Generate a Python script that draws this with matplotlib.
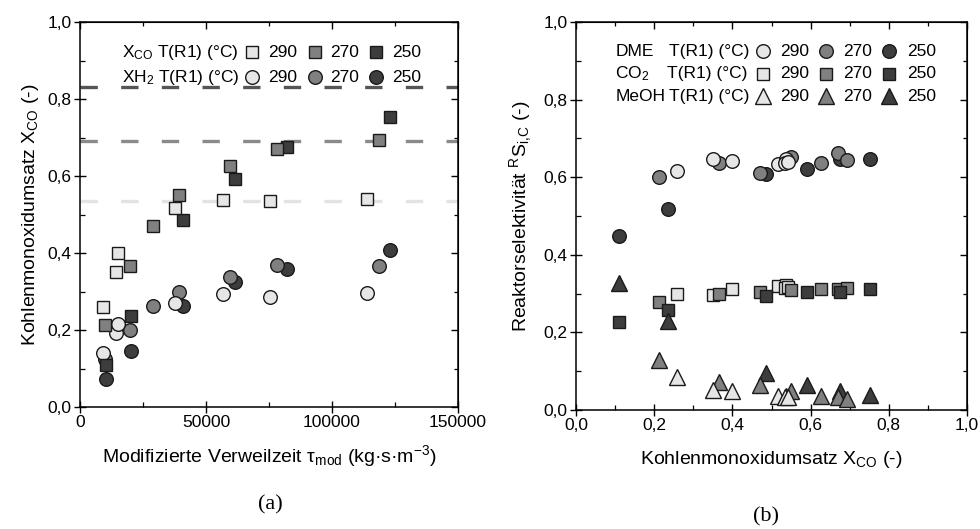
import matplotlib
matplotlib.use("Agg")
import matplotlib.pyplot as plt
from matplotlib.ticker import MultipleLocator, FuncFormatter

plt.rcParams['font.family'] = ['Liberation Sans', 'DejaVu Sans']
plt.rcParams['mathtext.fontset'] = 'custom'
plt.rcParams['mathtext.rm'] = 'Liberation Sans'
plt.rcParams['mathtext.it'] = 'Liberation Sans:italic'
plt.rcParams['mathtext.bf'] = 'Liberation Sans:bold'

# ---------------- data ----------------
temps = ["290", "270", "250"]

# modified residence time tau_mod (kg s m^-3)
tau_290 = [9140, 14180, 15090, 37890, 56800, 75350, 113760]
tau_270 = [9930, 19740, 29000, 39200, 59460, 78130, 118760]
tau_250 = [10210, 20140, 40910, 61450, 81980, 123010]

# CO conversion X_CO (-)
xco_290 = [0.259, 0.350, 0.399, 0.516, 0.538, 0.535, 0.541]
xco_270 = [0.212, 0.366, 0.471, 0.551, 0.627, 0.670, 0.694]
xco_250 = [0.110, 0.236, 0.486, 0.591, 0.676, 0.753]

# H2 conversion X_H2 (-)
xh2_290 = [0.141, 0.191, 0.215, 0.271, 0.294, 0.285, 0.296]
xh2_270 = [0.125, 0.201, 0.262, 0.299, 0.338, 0.368, 0.366]
xh2_250 = [0.074, 0.146, 0.262, 0.325, 0.359, 0.409]

# equilibrium CO conversion at 250 / 270 / 290 degC
xco_eq = [0.830, 0.690, 0.536]

# reactor selectivities (carbon based)
dme_290 = [0.617, 0.648, 0.642, 0.635, 0.646, 0.636, 0.640]
dme_270 = [0.601, 0.637, 0.610, 0.651, 0.637, 0.662, 0.644]
dme_250 = [0.448, 0.518, 0.608, 0.620, 0.646, 0.646]

co2_290 = [0.299, 0.297, 0.311, 0.320, 0.322, 0.314, 0.316]
co2_270 = [0.278, 0.299, 0.305, 0.309, 0.313, 0.311, 0.314]
co2_250 = [0.228, 0.258, 0.294, 0.305, 0.305, 0.311]

meoh_290 = [0.086, 0.052, 0.050, 0.036, 0.035, 0.034, 0.033]
meoh_270 = [0.129, 0.073, 0.064, 0.050, 0.036, 0.033, 0.028]
meoh_250 = [0.327, 0.230, 0.095, 0.064, 0.050, 0.039]

# ---------------- styling ----------------
fill = {"290": "#e6e6e6", "270": "#808080", "250": "#3d3d3d"}
eq_col = ["#555555", "#8a8a8a", "#e3e3e3"]
edge = "#1a1a1a"
MS_SQ, MS_CI, MS_TR = 8.8, 9.8, 11.5
FS_TICK, FS_LAB, FS_LEG = 12.5, 14, 12.5


def comma_fmt(v, pos):
    return f"{v:.1f}".replace(".", ",")


def style_axes(ax, xmajor, xminor, xfmt):
    ax.xaxis.set_major_locator(MultipleLocator(xmajor))
    ax.xaxis.set_minor_locator(MultipleLocator(xminor))
    ax.yaxis.set_major_locator(MultipleLocator(0.2))
    ax.yaxis.set_minor_locator(MultipleLocator(0.1))
    ax.yaxis.set_major_formatter(FuncFormatter(comma_fmt))
    if xfmt is not None:
        ax.xaxis.set_major_formatter(xfmt)
    for s in ax.spines.values():
        s.set_linewidth(1.1)
    ax.tick_params(which='major', direction='inout', length=8, width=1.0,
                   labelsize=FS_TICK, pad=2, top=False, right=False)
    ax.tick_params(which='minor', direction='in', length=3.5, width=0.9,
                   top=False, right=False)
    # mirrored inward ticks on top and right
    sx = ax.secondary_xaxis('top')
    sx.xaxis.set_major_locator(MultipleLocator(xmajor))
    sx.xaxis.set_minor_locator(MultipleLocator(xminor))
    sx.tick_params(which='major', direction='in', length=5, width=1.0, labeltop=False)
    sx.tick_params(which='minor', direction='in', length=3, width=0.9)
    sy = ax.secondary_yaxis('right')
    sy.yaxis.set_major_locator(MultipleLocator(0.2))
    sy.yaxis.set_minor_locator(MultipleLocator(0.1))
    sy.tick_params(which='major', direction='in', length=5, width=1.0, labelright=False)
    sy.tick_params(which='minor', direction='in', length=3, width=0.9)


def legend_row(ax, y, label_items, marker, ms, keys, xm, xt):
    for txt, x in label_items:
        ax.text(x, y, txt, transform=ax.transAxes, fontsize=FS_LEG,
                va='center', ha='left')
    for k, m_x, t_x in zip(keys, xm, xt):
        ax.plot([m_x], [y], marker=marker, ms=ms, mfc=fill[k], mec=edge,
                mew=1.0, ls='none', transform=ax.transAxes, clip_on=False)
        ax.text(t_x, y, k, transform=ax.transAxes, fontsize=FS_LEG,
                va='center', ha='left')


fig = plt.figure(figsize=(9.8, 5.29), dpi=100)
axa = fig.add_axes([0.0816, 0.2306, 0.3857, 0.7278])
axb = fig.add_axes([0.5878, 0.2250, 0.3990, 0.7335])

# ---------------- panel (a) ----------------
for val, c in zip(xco_eq, eq_col):
    axa.axhline(val, color=c, lw=2.4, dashes=(5.2, 7.0), zorder=1)

tau = {"290": tau_290, "270": tau_270, "250": tau_250}
xco = {"290": xco_290, "270": xco_270, "250": xco_250}
xh2 = {"290": xh2_290, "270": xh2_270, "250": xh2_250}

for k in ["250", "270", "290"]:
    axa.plot(tau[k], xh2[k], 'o', ms=MS_CI, mfc=fill[k], mec=edge, mew=1.0, zorder=3)
for k in ["250", "270", "290"]:
    axa.plot(tau[k], xco[k], 's', ms=MS_SQ, mfc=fill[k], mec=edge, mew=1.0, zorder=4)

axa.set_xlim(0, 150000)
axa.set_ylim(0, 1.0)
style_axes(axa, 50000, 25000, FuncFormatter(lambda v, p: f"{v:.0f}"))
axa.set_xlabel(r"Modifizierte Verweilzeit τ$_{\mathrm{mod}}$ (kg·s·m$^{\mathrm{-3}}$)",
               fontsize=FS_LAB, labelpad=9)
axa.set_ylabel(r"Kohlenmonoxidumsatz X$_{\mathrm{CO}}$ (-)", fontsize=FS_LAB, labelpad=5)

xm_a = [0.456, 0.622, 0.782]
xt_a = [0.498, 0.661, 0.825]
legend_row(axa, 0.922, [(r"X$_{\mathrm{CO}}$ T(R1) (°C)", 0.110)], 's', MS_SQ, temps, xm_a, xt_a)
legend_row(axa, 0.857, [(r"XH$_{\mathrm{2}}$ T(R1) (°C)", 0.110)], 'o', MS_CI, temps, xm_a, xt_a)

fig.text(0.276, 1 - 505 / 529, "(a)", family=['Liberation Serif', 'DejaVu Serif'],
         fontsize=16, ha='center', va='center')

# ---------------- panel (b) ----------------
dme = {"290": dme_290, "270": dme_270, "250": dme_250}
co2 = {"290": co2_290, "270": co2_270, "250": co2_250}
meoh = {"290": meoh_290, "270": meoh_270, "250": meoh_250}

for k in ["290", "270", "250"]:
    axb.plot(xco[k], co2[k], 's', ms=MS_SQ, mfc=fill[k], mec=edge, mew=1.0, zorder=3)
for k in ["250", "270", "290"]:
    axb.plot(xco[k], meoh[k], '^', ms=MS_TR, mfc=fill[k], mec=edge, mew=1.0, zorder=3)
for k in ["250", "270", "290"]:
    axb.plot(xco[k], dme[k], 'o', ms=MS_CI, mfc=fill[k], mec=edge, mew=1.0, zorder=3)

axb.set_xlim(0, 1.0)
axb.set_ylim(0, 1.0)
style_axes(axb, 0.2, 0.1, FuncFormatter(comma_fmt))
axb.set_xlabel(r"Kohlenmonoxidumsatz X$_{\mathrm{CO}}$ (-)", fontsize=FS_LAB, labelpad=11)
axb.set_ylabel(r"Reaktorselektivität ${}^{\mathrm{R}}\mathrm{S}_{\mathrm{i{,}C}}$ (-)",
               fontsize=FS_LAB, labelpad=7)

xm_b = [0.479, 0.639, 0.800]
xt_b = [0.522, 0.683, 0.846]
legend_row(axb, 0.924, [("DME", 0.100), ("T(R1) (°C)", 0.238)], 'o', MS_CI, temps, xm_b, xt_b)
legend_row(axb, 0.867, [(r"CO$_{\mathrm{2}}$", 0.100), ("T(R1) (°C)", 0.233)], 's', MS_SQ, temps, xm_b, xt_b)
legend_row(axb, 0.809, [("MeOH", 0.100), ("T(R1) (°C)", 0.238)], '^', MS_TR, temps, xm_b, xt_b)

fig.text(0.782, 1 - 517 / 529, "(b)", family=['Liberation Serif', 'DejaVu Serif'],
         fontsize=16, ha='center', va='center')

fig.savefig("out.png", dpi=100)
